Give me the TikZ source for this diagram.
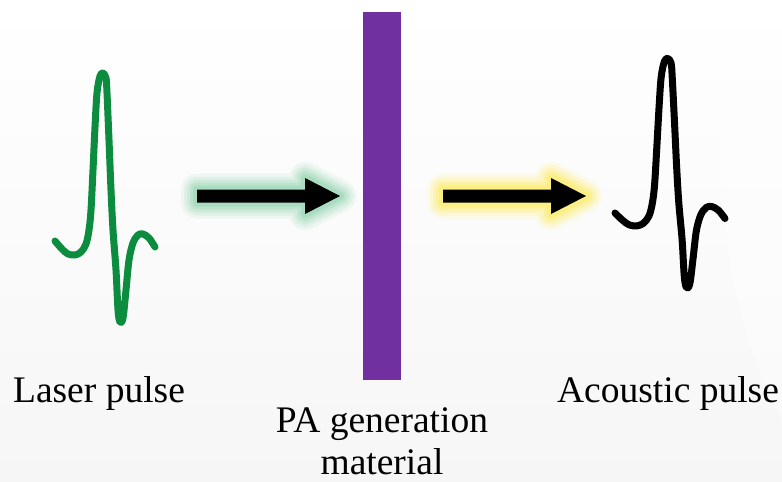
\documentclass[tikz,border=0pt]{standalone}
\usepackage{fontspec}
\setmainfont{Liberation Serif}
\newfontfamily\labelfont{Liberation Serif}
\usetikzlibrary{shapes,arrows,positioning}

\definecolor{pagreen}{HTML}{0B8C3E}
\definecolor{papurple}{HTML}{7030A0}
\definecolor{glowgreen}{HTML}{7FCDA2}
\definecolor{glowyellow}{HTML}{FFEA40}

\tikzset{
  pics/pulse/.style={code={
    \draw[line width=7pt, line cap=round, line join=round, #1]
      plot[smooth, tension=0.55] coordinates {(0,0) (7,8) (13,13) (20,14) (26,11) (31,3)
        (34,-11) (36,-31) (38,-71) (40,-114) (42,-148) (45,-165) (48,-168) (51,-163)
        (52,-148) (54,-101) (56,-51) (58,-11) (61,29) (63,69) (65,81) (68,77) (71,49)
        (74,19) (78,2) (83,-6) (88,-7) (94,-3) (100,6)};
  }},
  pics/glowarrow/.style={code={
    \foreach \w/\o in {32/0.10,26/0.13,20/0.17,14/0.22,8/0.3}
      \draw[line width=\w pt, line join=round, #1, opacity=\o]
        (0,-6.5) -- (108,-6.5) -- (108,-18) -- (143,0) -- (108,18) -- (108,6.5) -- (0,6.5) -- cycle;
    \fill[black] (0,-6.5) -- (108,-6.5) -- (108,-18) -- (143,0) -- (108,18) -- (108,6.5) -- (0,6.5) -- cycle;
  }}
}

\begin{document}
\begin{tikzpicture}[
      x=1pt, y=-1pt,
      > = stealth,
      semithick]
      \tikzstyle{lbl}=[
      inner sep=0pt,
      font=\labelfont\fontsize{37.5}{44}\selectfont]

      % background
      \useasboundingbox (0,0) rectangle (782,482);
      \fill[top color=white, bottom color=gray!7] (0,0) rectangle (782,482);
      \fill[white, opacity=0.4] (735,0) .. controls (700,150) and (730,330) .. (782,420) -- (782,0) -- cycle;

      % absorber
      \node[fill=papurple, inner sep=0pt, minimum width=38pt, minimum height=368pt,
            anchor=north west] (bar) at (363,12) {};

      % pulses
      \pic (laserwave) at (55,241) {pulse=pagreen};
      \pic[xscale=1.1, yscale=0.92] (acousticwave) at (615,213) {pulse=black};

      % arrows
      \coordinate (gtail) at (197,196);
      \coordinate (ytail) at (443,196);
      \pic at (gtail) {glowarrow=glowgreen};
      \pic at (ytail) {glowarrow=glowyellow};

      % labels
      \node[lbl, anchor=base] (laser) at (99,402) {Laser pulse};
      \node[lbl, anchor=base] (acoustic) at (668,402) {Acoustic pulse};
      \node[lbl, anchor=base] (pagen) at (382,432) {PA generation};
      \node[lbl, anchor=base] (material) at ([yshift=-42pt]pagen.base) {material};
\end{tikzpicture}
\end{document}
